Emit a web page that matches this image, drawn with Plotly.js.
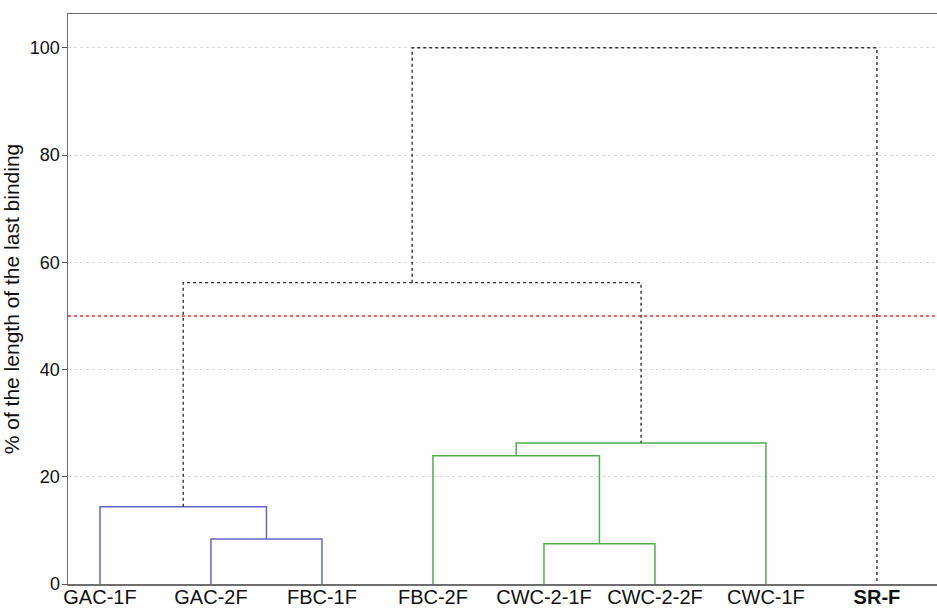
<!DOCTYPE html>
<html>
<head>
<meta charset="utf-8">
<script src="https://cdn.plot.ly/plotly-3.0.1.min.js"></script>
<style>
  html, body { margin: 0; padding: 0; background: #fff; }
  #chart { width: 937px; height: 610px; }
</style>
</head>
<body>
<div id="chart"></div>
<script>
// Leaves in dendrogram order
const leaves = ['GAC-1F', 'GAC-2F', 'FBC-1F', 'FBC-2F', 'CWC-2-1F', 'CWC-2-2F', 'CWC-1F', 'SR-F'];
const outgroup = 'SR-F';

// Linkage: child A, child B (leaf index or 8 + merge index), height (% of last binding)
const mergeLeft   = [1, 4, 0, 3, 11, 10, 13];
const mergeRight  = [2, 5, 8, 9, 6, 12, 7];
const mergeHeight = [8.4, 7.5, 14.4, 23.9, 26.3, 56.2, 100];
// Cluster group of each merge (null = joined above the cut)
const mergeGroup  = ['A', 'B', 'A', 'B', 'B', null, null];

// Cut level
const cutHeight = 50;

const groupStyle = {
  A: { color: '#6565c4', width: 1.5, dash: 'solid' },
  B: { color: '#4fae4f', width: 1.5, dash: 'solid' },
  none: { color: '#333333', width: 1.4, dash: 'dot' }
};

// Position and height of every node
const nodeX = leaves.map((_, i) => i);
const nodeH = leaves.map(() => 0);
mergeLeft.forEach((a, k) => {
  const b = mergeRight[k];
  nodeX.push((nodeX[a] + nodeX[b]) / 2);
  nodeH.push(mergeHeight[k]);
});

// One U-shaped link per merge
const traces = mergeLeft.map((a, k) => {
  const b = mergeRight[k];
  const h = mergeHeight[k];
  const st = groupStyle[mergeGroup[k] || 'none'];
  return {
    type: 'scatter', mode: 'lines', hoverinfo: 'skip', showlegend: false,
    x: [nodeX[a], nodeX[a], nodeX[b], nodeX[b]],
    y: [nodeH[a], h, h, nodeH[b]],
    line: { color: st.color, width: st.width, dash: st.dash }
  };
});

// Cut line across the plot
const xMin = -0.288, xMax = 7.541;
traces.push({
  type: 'scatter', mode: 'lines', hoverinfo: 'skip', showlegend: false,
  x: [xMin, xMax], y: [cutHeight, cutHeight],
  line: { color: '#ff2a2a', width: 1.5, dash: 'dot' }
});

const font = 'Arial, "Liberation Sans", sans-serif';

const layout = {
  width: 937, height: 610,
  margin: { l: 68, r: 0, t: 14, b: 26 },
  paper_bgcolor: '#ffffff', plot_bgcolor: '#ffffff',
  font: { family: font, color: '#1a1a1a' },
  xaxis: {
    range: [xMin, xMax],
    tickmode: 'array',
    tickvals: nodeX.slice(0, leaves.length),
    ticktext: leaves.map(l => l === outgroup ? '<b>' + l + '</b>' : l),
    ticks: '', ticklen: 0,
    ticklabelstandoff: -6,
    tickfont: { size: 20, family: font, color: '#111' },
    showgrid: false, zeroline: false,
    showline: true, mirror: true, linecolor: '#6e6e6e', linewidth: 1.5
  },
  yaxis: {
    range: [0, 106.3],
    tickvals: [0, 20, 40, 60, 80, 100],
    ticks: 'outside', ticklen: 5, tickwidth: 1, tickcolor: '#555',
    ticklabelstandoff: -2,
    tickfont: { size: 18, family: font, color: '#111' },
    showgrid: true, gridcolor: '#dadada', gridwidth: 1, griddash: 'dot',
    zeroline: false,
    showline: true, mirror: false, linecolor: '#6e6e6e', linewidth: 1.5,
    title: { text: '% of the length of the last binding', font: { size: 21, family: font, color: '#111' }, standoff: 6 }
  }
};

Plotly.newPlot('chart', traces, layout, { displayModeBar: false, staticPlot: true });
</script>
</body>
</html>
